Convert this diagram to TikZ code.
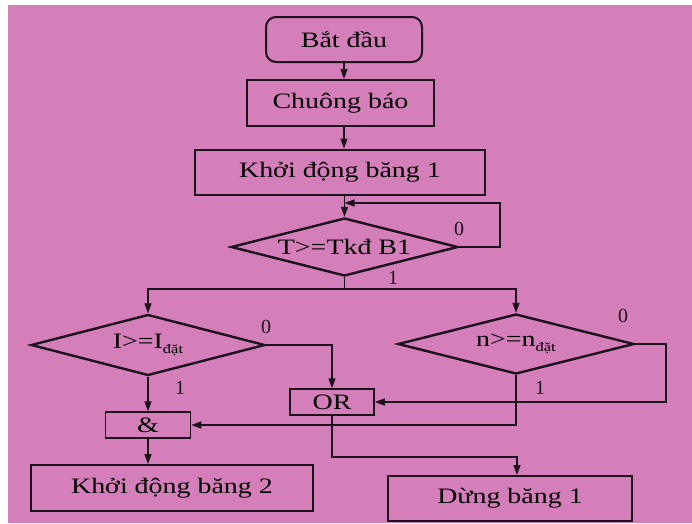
\documentclass[tikz,border=0pt]{standalone}
\usepackage{fontspec}
\setmainfont[FakeStretch=1.27]{Liberation Serif}
\newfontfamily\lblfont{Liberation Serif}
\usetikzlibrary{shapes.geometric,arrows.meta}
\definecolor{pinkbg}{RGB}{212,126,186}
\definecolor{ink}{RGB}{28,18,28}
\newcommand{\subdat}{\raisebox{-0.45ex}{\fontsize{13}{13}\selectfont đặt}}
\begin{document}
\begin{tikzpicture}[x=1pt,y=-1pt,
  boxs/.style={draw=ink,line width=2pt,rectangle,inner sep=0pt,font=\fontsize{22}{22}\selectfont},
  gate/.style={draw=ink,line width=1.5pt,rectangle,inner sep=0pt,font=\fontsize{22}{22}\selectfont},
  dia/.style={draw=ink,line width=2.4pt,diamond,aspect=4,inner sep=0pt,font=\fontsize{22}{22}\selectfont},
  conn/.style={draw=ink,line width=1.3pt},
  arr/.style={conn,-{Triangle[length=10pt,width=7pt]}},
  lbl/.style={font=\lblfont\fontsize{20}{20}\selectfont,inner sep=0pt,text=ink}]
\useasboundingbox (0,0) rectangle (692,523);
\fill[white] (0,0) rectangle (692,523);
\fill[pinkbg] (8,5) rectangle (692,523);

\node[boxs,rounded corners=10pt,minimum width=156pt,minimum height=45pt] (start) at (344,39.5) {Bắt đầu};
\node[boxs,minimum width=187pt,minimum height=46pt] (bell) at (340.5,103) {Chuông báo};
\node[boxs,minimum width=290pt,minimum height=45pt] (kd1) at (340,172) {Khởi động băng 1};
\node[dia,minimum width=227pt,minimum height=58pt] (dT) at (344.5,247) {T>=Tkđ B1};
\node[dia,minimum width=234pt,minimum height=61pt] (dL) at (148,345) {I>=I\subdat};
\node[dia,minimum width=236pt,minimum height=60pt] (dR) at (516,344) {n>=n\subdat};
\node[gate,minimum width=84pt,minimum height=26pt] (OR) at (332,402) {OR};
\node[gate,minimum width=85pt,minimum height=26pt] (and) at (148,425) {\&};
\node[boxs,minimum width=282pt,minimum height=46pt] (kd2) at (172,488) {Khởi động băng 2};
\node[boxs,minimum width=244pt,minimum height=45pt] (stop) at (510,498.5) {Dừng băng 1};

\coordinate (loopT) at (500,203);
\coordinate (br) at (344.5,289);
\coordinate (rloop) at (666,402);
\coordinate (stopin) at (517,457);

\draw[arr] (start.south) -- (start.south |- bell.north);
\draw[arr] (start.south |- bell.south) -- (start.south |- kd1.north);
\draw[arr] (dT.north |- kd1.south) -- (dT.north);
\draw[arr] (dT.east) -| (loopT) -- (dT.north |- loopT);
\draw[conn] (dT.south) -- (br);
\draw[arr] (br) -| (dL.north);
\draw[arr] (br) -| (dR.north);
\draw[arr] (dL.east) -| (OR.north);
\draw[arr] (dR.east) -| (rloop) -- (OR.east);
\draw[arr] (dR.south) |- (and.east);
\draw[arr] (dL.south) -- (and.north);
\draw[arr] (and.south) -- (and.south |- kd2.north);
\draw[arr] (OR.south) |- (stopin) -- (stopin |- stop.north);

\node[lbl] (l0a) at (459,229) {0};
\node[lbl] (l1a) at (393,278) {1};
\node[lbl] (l0b) at (266,327) {0};
\node[lbl] (l1b) at (180,388) {1};
\node[lbl] (l0c) at (623,316) {0};
\node[lbl] (l1c) at (540,388) {1};
\end{tikzpicture}
\end{document}
